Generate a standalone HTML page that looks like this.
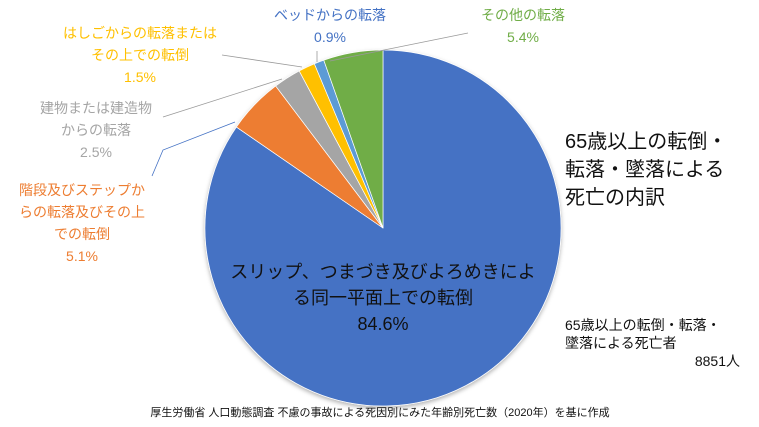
<!DOCTYPE html>
<html><head><meta charset="utf-8"><style>
body{margin:0;background:#fff;width:759px;height:427px;overflow:hidden}
svg{display:block;font-family:"Liberation Sans","Noto Sans CJK JP",sans-serif}
</style></head><body>
<svg width="759" height="427" viewBox="0 0 759 427">
<defs><filter id="sh" x="-10%" y="-10%" width="120%" height="120%"><feDropShadow dx="0" dy="2" stdDeviation="2" flood-opacity="0.3"/></filter></defs>
<g id="slices" filter="url(#sh)"></g>
<g stroke-width="0.8" fill="none">
<polyline points="222,55 302,67" stroke="#999"/>
<polyline points="163,117 282,79" stroke="#999"/>
<polyline points="152,176 163,150 235,122" stroke="#4472c4"/>
<polyline points="317,51 317,62" stroke="#999"/>
<polyline points="468,33 330,61" stroke="#999"/>
</g>
<g font-size="14" text-anchor="middle">
<text x="330" y="20" fill="#4472c4">ベッドからの転落<tspan x="330" dy="22">0.9%</tspan></text>
<text x="523" y="20" fill="#70ad47">その他の転落<tspan x="523" dy="22">5.4%</tspan></text>
<text x="140" y="38" fill="#ffc000">はしごからの転落または<tspan x="140" dy="22">その上での転倒</tspan><tspan x="140" dy="22">1.5%</tspan></text>
<text x="96" y="113" fill="#a5a5a5">建物または建造物<tspan x="96" dy="22">からの転落</tspan><tspan x="96" dy="22">2.5%</tspan></text>
<text x="82" y="195" fill="#ed7d31">階段及びステップか<tspan x="82" dy="22">らの転落及びその上</tspan><tspan x="82" dy="22">での転倒</tspan><tspan x="82" dy="22">5.1%</tspan></text>
<text x="383" y="278" font-size="18" fill="#111">スリップ、つまづき及びよろめきによ<tspan x="383" dy="26">る同一平面上での転倒</tspan><tspan x="383" dy="26">84.6%</tspan></text>
</g>
<text x="565" y="148" font-size="20" fill="#111">65歳以上の転倒・<tspan x="565" dy="28">転落・墜落による</tspan><tspan x="565" dy="28">死亡の内訳</tspan></text>
<text x="565" y="330" font-size="14" fill="#111">65歳以上の転倒・転落・<tspan x="565" dy="18">墜落による死亡者</tspan><tspan x="740" dy="18" text-anchor="end">8851人</tspan></text>
<text x="380" y="416" font-size="11" fill="#111" text-anchor="middle">厚生労働省 人口動態調査 不慮の事故による死因別にみた年齢別死亡数（2020年）を基に作成</text>
</svg>
<script>
const categories=["スリップ、つまづき及びよろめきによる同一平面上での転倒","階段及びステップからの転落及びその上での転倒","建物または建造物からの転落","はしごからの転落またはその上での転倒","ベッドからの転落","その他の転落"];
const values=[84.6,5.1,2.5,1.5,0.9,5.4];
const colors=["#4472c4","#ed7d31","#a5a5a5","#ffc000","#5b9bd5","#70ad47"];
const cx=383,cy=228,r=178;
const g=document.getElementById('slices');
const total=values.reduce((a,b)=>a+b,0);
let a0=0;
values.forEach((v,i)=>{
  const a1=a0+v/total*2*Math.PI;
  const x0=cx+r*Math.sin(a0),y0=cy-r*Math.cos(a0);
  const x1=cx+r*Math.sin(a1),y1=cy-r*Math.cos(a1);
  const p=document.createElementNS('http://www.w3.org/2000/svg','path');
  p.setAttribute('d',`M${cx},${cy}L${x0},${y0}A${r},${r} 0 ${(a1-a0)>Math.PI?1:0} 1 ${x1},${y1}Z`);
  p.setAttribute('fill',colors[i]);
  p.setAttribute('stroke','#fff');
  p.setAttribute('stroke-width','0.7');
  
  
  g.appendChild(p);
  a0=a1;
});
</script>
</body></html>
